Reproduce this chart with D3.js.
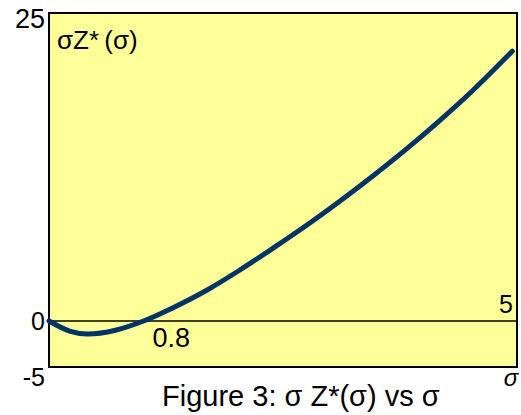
<!DOCTYPE html>
<html>
<head>
<meta charset="UTF-8">
<title>Figure 3</title>
<script src="https://cdnjs.cloudflare.com/ajax/libs/d3/7.8.5/d3.min.js"></script>
<style>
  body { margin: 0; background: #fff; }
  svg { display: block; font-family: "Liberation Sans", Arial, sans-serif; }
</style>
</head>
<body>
<svg width="521" height="415"></svg>
<script>
// values
var sigma = [0, 0.22, 0.41, 0.71, 1.01, 1.32, 1.69, 2.04, 2.39, 2.76, 3.11, 3.46, 3.82, 4.18, 4.53, 4.95]
var sigmaZ = [0, -1.09, -1.41, -1.0, 0, 1.06, 2.52, 4.14, 5.89, 7.81, 9.74, 11.77, 13.97, 16.31, 18.73, 21.9]
var yTicks = [-5, 0, 25]

var svg = d3.select("svg")

// note: "top" is taken by window.top, so plot edges get their own names
var plotL = 49, plotR = 517, plotT = 13, plotB = 367

var x = d3.scaleLinear().domain([0, 5]).range([plotL, plotR])
// the figure is not drawn to one scale above and below zero
var y = d3.scaleLinear().domain([-5, 0, 25]).range([plotB, 321, plotT])

svg.append("rect")
  .attr("x", plotL).attr("y", plotT)
  .attr("width", plotR - plotL).attr("height", plotB - plotT)
  .attr("fill", "#ffff99")
  .attr("stroke", "#000")
  .attr("stroke-width", 2)

svg.append("line")
  .attr("x1", plotL).attr("x2", plotR)
  .attr("y1", y(0)).attr("y2", y(0))
  .attr("stroke", "#000")
  .attr("stroke-width", 1.5)

var line = d3.line()
  .x(function(d, i) { return x(sigma[i]) })
  .y(function(d) { return y(d) })
  .curve(d3.curveCatmullRom)

svg.append("path")
  .datum(sigmaZ)
  .attr("d", line)
  .attr("fill", "none")
  .attr("stroke", "#003366")
  .attr("stroke-width", 5)
  .attr("stroke-linecap", "round")

// y tick labels
var yAxis = svg.append("g")
  .attr("transform", "translate(" + (plotL - 4) + ",0)")
  .call(d3.axisLeft(y).tickValues(yTicks).tickSize(0).tickPadding(0).tickFormat(function(d) { return String(d) }))
yAxis.select(".domain").remove()
yAxis.selectAll("text")
  .attr("fill", "#000")
  .style("font-size", function(d) { return d == 25 ? "27px" : "25px" })
  .attr("dy", function(d) { return d == 25 ? "0.52em" : d == 0 ? "0.35em" : "0.75em" })

svg.append("text")
  .attr("x", 57).attr("y", 49)
  .style("font-size", "26px")
  .text("σZ*\u2009(σ)")

svg.append("text")
  .attr("x", x(1.01) + 9).attr("y", y(0) + 26)
  .style("font-size", "27px")
  .text("0.8")

svg.append("text")
  .attr("x", plotR - 4).attr("y", y(0) - 8)
  .attr("text-anchor", "end")
  .style("font-size", "25px")
  .text("5")

svg.append("text")
  .attr("x", 511).attr("y", 386)
  .attr("text-anchor", "middle")
  .style("font-size", "24px")
  .style("font-style", "italic")
  .text("σ")

svg.append("text")
  .attr("x", 162).attr("y", 406)
  .style("font-size", "29px")
  .text("Figure 3: σ  Z*(σ) vs σ")
</script>
</body>
</html>
